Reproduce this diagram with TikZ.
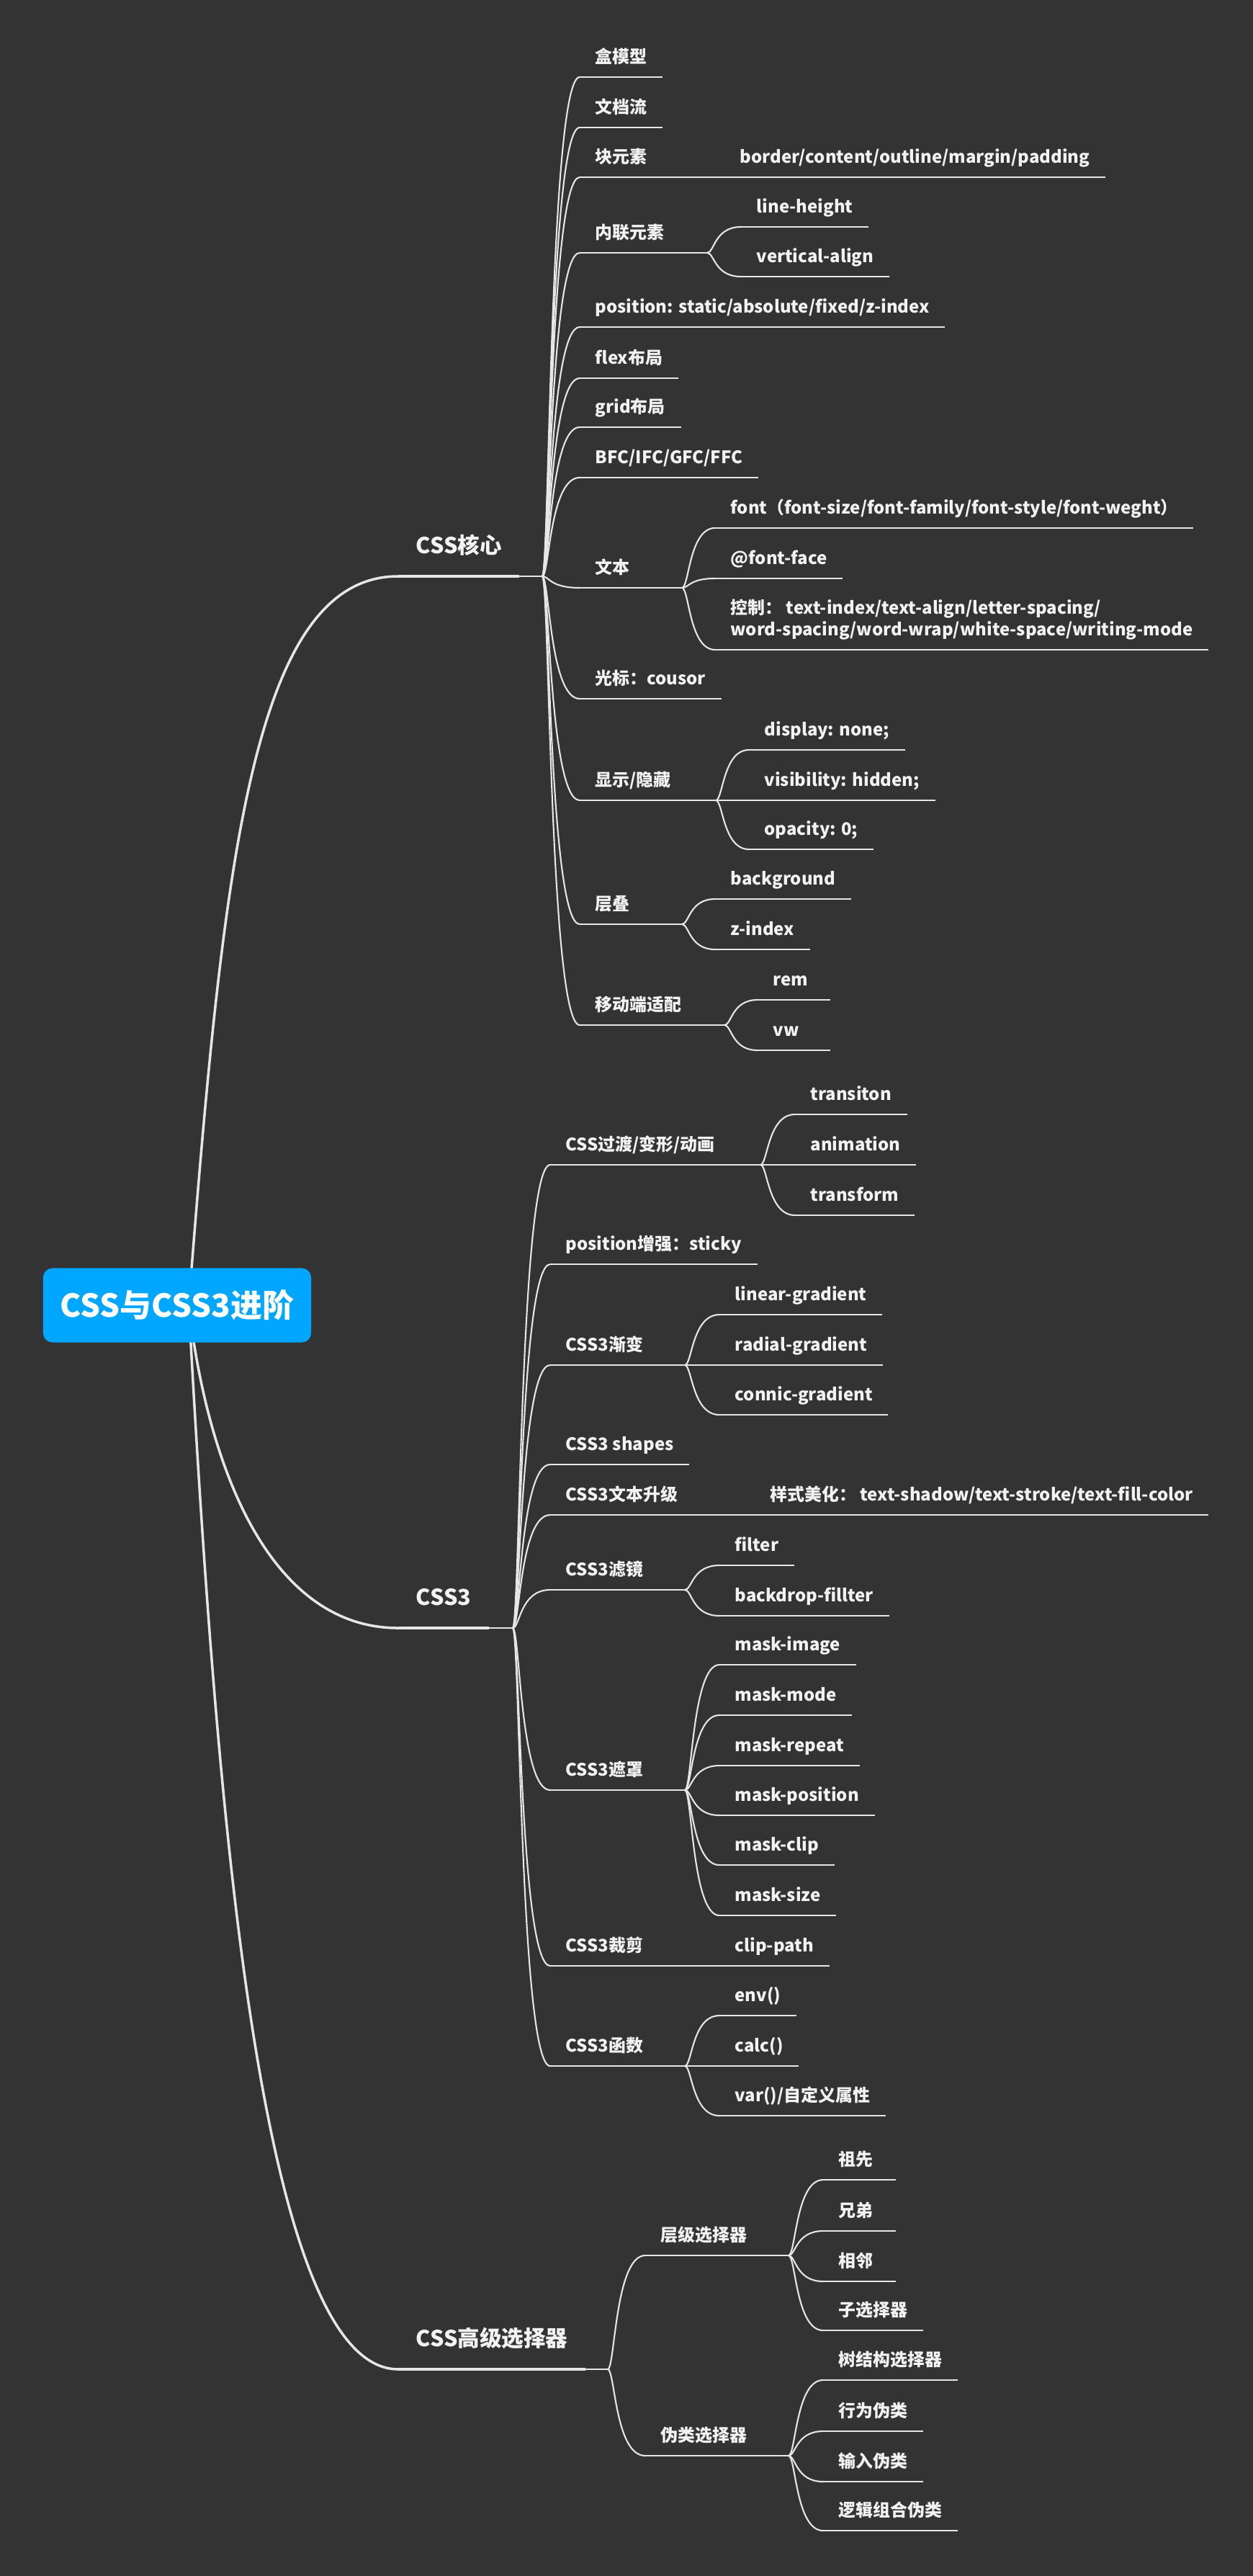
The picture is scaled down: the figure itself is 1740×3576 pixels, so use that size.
\documentclass[tikz,border=0pt]{standalone}
\usepackage{fontspec}
\setmainfont{Noto Sans CJK SC}
\usetikzlibrary{calc}
\pgfdeclarelayer{bg}
\pgfdeclarelayer{links}
\pgfsetlayers{bg,links,main}
\definecolor{bgc}{RGB}{51,51,51}
\definecolor{linec}{RGB}{230,230,230}
\definecolor{textc}{RGB}{242,242,242}
\definecolor{rootc}{RGB}{0,166,255}

\begin{document}
\begin{tikzpicture}[x=0.01cm, y=-0.01cm,
    rootbox/.style={fill=rootc, rounded corners=0.13cm, minimum width=3.72cm, minimum height=1.03cm,
      inner sep=0pt, text=white, font=\fontsize{12.5}{14}\selectfont\bfseries},
    mainbox/.style={anchor=south west, inner xsep=0.24cm, inner ysep=0pt, text depth=0.31cm,
      text=textc, font=\fontsize{8.7}{10}\selectfont\bfseries},
    leaf/.style={anchor=south west, inner xsep=0.21cm, inner ysep=0pt, text depth=0.185cm,
      text=textc, font=\fontsize{6.8}{8.5}\selectfont\bfseries},
    short/.style={text width=0.58cm, align=left},
    trunk/.style={draw=linec, line width=1pt},
    thickline/.style={draw=linec, line width=1.15pt},
    uline/.style={draw=linec, line width=0.6pt},
    link/.style={uline, to path={.. controls +(10,0) and ($(\tikztostart|-\tikztotarget)+(10,0)$) .. (\tikztotarget)}}
  ]
        % background
        \begin{pgfonlayer}{bg}
        \fill[bgc] (0,0) rectangle (1740,3576);
        \end{pgfonlayer}

        % root
        \node[rootbox] (root) at (246,1812) {CSS与CSS3进阶};

        % main branches
        \node[mainbox] (core) at (553,800) {CSS核心};
        \coordinate (coref) at (753,800);
        \node[mainbox] (css3) at (553,2260) {CSS3};
        \coordinate (css3f) at (712,2260);
        \node[mainbox] (sel) at (553,3289) {CSS高级选择器};
        \coordinate (self) at (844,3289);

        % CSS核心
        \node[leaf] (box) at (805,107) {盒模型};
        \node[leaf] (flow) at (805,177) {文档流};
        \node[leaf] (block) at (805,246) {块元素};
        \node[leaf] (blockp) at (1006,246) {border/content/outline/margin/padding};
        \node[leaf] (inl) at (805,351) {内联元素};
        \coordinate (inlf) at (982,351);
        \node[leaf] (lh) at (1029,315) {line-height};
        \node[leaf] (va) at (1029,384) {vertical-align};
        \node[leaf] (pos) at (805,454) {position: static/absolute/fixed/z-index};
        \node[leaf] (flex) at (805,525) {flex布局};
        \node[leaf] (grid) at (805,593) {grid布局};
        \node[leaf] (fc) at (805,663) {BFC/IFC/GFC/FFC};
        \node[leaf, short] (txt) at (805,816) {文本};
        \coordinate (txtf) at (947,816);
        \node[leaf] (font) at (993,733) {font（font-size/font-family/font-style/font-weght）};
        \node[leaf] (face) at (993,803) {@font-face};
        \node[leaf] (ctrl) at (993,902) {\begin{tabular}[b]{@{}l@{}}控制： text-index/text-align/letter-spacing/\\word-spacing/word-wrap/white-space/writing-mode\end{tabular}};
        \node[leaf] (cur) at (805,970) {光标：cousor};
        \node[leaf] (show) at (805,1111) {显示/隐藏};
        \coordinate (showf) at (994,1111);
        \node[leaf] (dnone) at (1040,1041) {display: none;};
        \node[leaf] (vhid) at (1040,1111) {visibility: hidden;};
        \node[leaf] (opac) at (1040,1179) {opacity: 0;};
        \node[leaf, short] (stack) at (805,1283) {层叠};
        \coordinate (stackf) at (947,1283);
        \node[leaf] (bgd) at (993,1248) {background};
        \node[leaf] (zidx) at (993,1318) {z-index};
        \node[leaf] (mob) at (805,1423) {移动端适配};
        \coordinate (mobf) at (1006,1423);
        \node[leaf, short] (rem) at (1052,1388) {rem};
        \node[leaf, short] (vw) at (1052,1458) {vw};

        % CSS3
        \node[leaf] (anim) at (764,1617) {CSS过渡/变形/动画};
        \coordinate (animf) at (1056,1617);
        \node[leaf] (trans) at (1104,1547) {transiton};
        \node[leaf] (ani) at (1104,1617) {animation};
        \node[leaf] (tform) at (1104,1687) {transform};
        \node[leaf] (sticky) at (764,1755) {position增强：sticky};
        \node[leaf] (grad) at (764,1895) {CSS3渐变};
        \coordinate (gradf) at (951,1895);
        \node[leaf] (lin) at (999,1825) {linear-gradient};
        \node[leaf] (rad) at (999,1895) {radial-gradient};
        \node[leaf] (con) at (999,1964) {connic-gradient};
        \node[leaf] (shape) at (764,2033) {CSS3 shapes};
        \node[leaf] (text3) at (764,2103) {CSS3文本升级};
        \node[leaf] (beaut) at (1048,2103) {样式美化： text-shadow/text-stroke/text-fill-color};
        \node[leaf] (filt) at (764,2207) {CSS3滤镜};
        \coordinate (filtf) at (951,2207);
        \node[leaf] (filter) at (999,2173) {filter};
        \node[leaf] (bdrop) at (999,2243) {backdrop-fillter};
        \node[leaf] (mask) at (764,2485) {CSS3遮罩};
        \coordinate (maskf) at (951,2485);
        \node[leaf] (mimg) at (999,2311) {mask-image};
        \node[leaf] (mmode) at (999,2381) {mask-mode};
        \node[leaf] (mrep) at (999,2451) {mask-repeat};
        \node[leaf] (mpos) at (999,2520) {mask-position};
        \node[leaf] (mclip) at (999,2589) {mask-clip};
        \node[leaf] (msize) at (999,2659) {mask-size};
        \node[leaf] (clip) at (764,2729) {CSS3裁剪};
        \node[leaf] (cpath) at (999,2729) {clip-path};
        \node[leaf] (func) at (764,2868) {CSS3函数};
        \coordinate (funcf) at (951,2868);
        \node[leaf] (env) at (999,2798) {env()};
        \node[leaf] (calc) at (999,2868) {calc()};
        \node[leaf] (var) at (999,2937) {var()/自定义属性};

        % CSS高级选择器
        \node[leaf] (lvl) at (896,3131) {层级选择器};
        \coordinate (lvlf) at (1095,3131);
        \node[leaf, short] (anc) at (1143,3026) {祖先};
        \node[leaf, short] (sib) at (1143,3097) {兄弟};
        \node[leaf, short] (adj) at (1143,3167) {相邻};
        \node[leaf] (child) at (1143,3235) {子选择器};
        \node[leaf] (pseudo) at (896,3409) {伪类选择器};
        \coordinate (pseudof) at (1095,3409);
        \node[leaf] (tree) at (1143,3304) {树结构选择器};
        \node[leaf] (act) at (1143,3375) {行为伪类};
        \node[leaf] (inp) at (1143,3445) {输入伪类};
        \node[leaf] (logic) at (1143,3513) {逻辑组合伪类};

        % root links
        \begin{pgfonlayer}{links}
        \draw[trunk] ([xshift=0.16cm]root.center) .. controls (310,1200) and (350,800) .. (core.south west);
        \draw[trunk] ([xshift=0.16cm]root.center) .. controls (290,2050) and (380,2260) .. (css3.south west);
        \draw[trunk] ([xshift=0.16cm]root.center) .. controls (300,2500) and (360,3289) .. (sel.south west);
        \end{pgfonlayer}

        % main underlines
        \foreach \m in {core,css3,sel}
          \draw[thickline] (\m.south west) -- (\m.south east);
        \draw[uline] (core.south east) -- (coref);
        \draw[uline] (css3.south east) -- (css3f);
        \draw[uline] (sel.south east) -- (self);

        % underlines of nodes with children
        \foreach \p in {inl,txt,show,stack,mob,anim,grad,filt,mask,func,lvl,pseudo}
          \draw[uline] (\p.south west) -- (\p f);

        % underlines of leaves
        \foreach \n in {box,flow,block,blockp,lh,va,pos,flex,grid,fc,font,face,ctrl,cur,dnone,vhid,opac,bgd,zidx,rem,vw,
                        trans,ani,tform,sticky,lin,rad,con,shape,text3,beaut,filter,bdrop,mimg,mmode,mrep,mpos,mclip,msize,
                        clip,cpath,env,calc,var,anc,sib,adj,child,tree,act,inp,logic}
          \draw[uline] (\n.south west) -- (\n.south east);

        % straight continuations
        \draw[uline] (block.south east) -- (blockp.south west);
        \draw[uline] (text3.south east) -- (beaut.south west);
        \draw[uline] (clip.south east) -- (cpath.south west);

        % links
        \foreach \c in {box,flow,block,inl,pos,flex,grid,fc,txt,cur,show,stack,mob}
          \draw[link] (coref) to (\c.south west);
        \foreach \c in {anim,sticky,grad,shape,text3,filt,mask,clip,func}
          \draw[link] (css3f) to (\c.south west);
        \foreach \c in {lvl,pseudo}
          \draw[link] (self) to (\c.south west);
        \foreach \c in {lh,va} \draw[link] (inlf) to (\c.south west);
        \foreach \c in {font,face,ctrl} \draw[link] (txtf) to (\c.south west);
        \foreach \c in {dnone,vhid,opac} \draw[link] (showf) to (\c.south west);
        \foreach \c in {bgd,zidx} \draw[link] (stackf) to (\c.south west);
        \foreach \c in {rem,vw} \draw[link] (mobf) to (\c.south west);
        \foreach \c in {trans,ani,tform} \draw[link] (animf) to (\c.south west);
        \foreach \c in {lin,rad,con} \draw[link] (gradf) to (\c.south west);
        \foreach \c in {filter,bdrop} \draw[link] (filtf) to (\c.south west);
        \foreach \c in {mimg,mmode,mrep,mpos,mclip,msize} \draw[link] (maskf) to (\c.south west);
        \foreach \c in {env,calc,var} \draw[link] (funcf) to (\c.south west);
        \foreach \c in {anc,sib,adj,child} \draw[link] (lvlf) to (\c.south west);
        \foreach \c in {tree,act,inp,logic} \draw[link] (pseudof) to (\c.south west);
\end{tikzpicture}
\end{document}
